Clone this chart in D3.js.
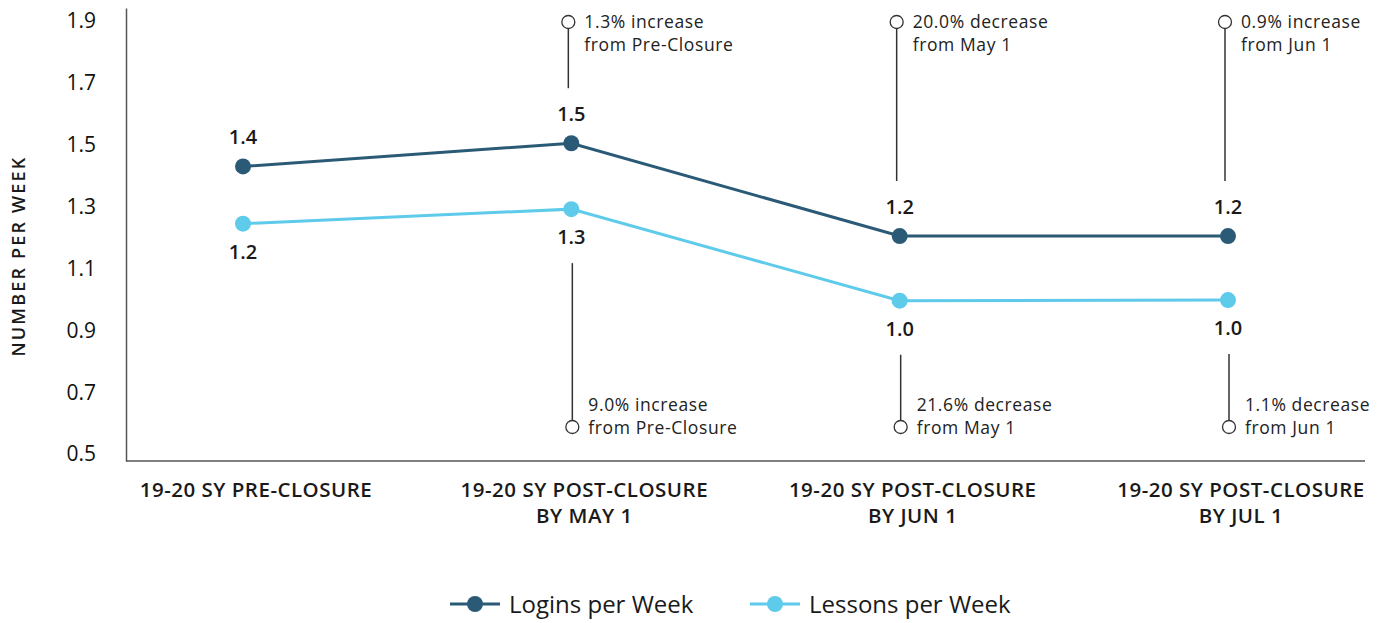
<!DOCTYPE html>
<html>
<head>
<meta charset="utf-8" />
<title>Logins and Lessons per Week</title>
<script src="https://d3js.org/d3.v7.min.js"></script>
<style>
    body { margin: 0; background: #fff; font-family: "Open Sans", sans-serif; }
    .axis path, .axis line { fill: none; stroke: #555; stroke-width: 1.5; }
    .tick text { font-size: 21px; fill: #111; font-family: "Open Sans", sans-serif; }
    .cat { font-size: 20.5px; font-weight: 600; letter-spacing: 0.5px; fill: #1a1a1a; }
    .val { font-size: 20px; font-weight: 600; fill: #1a1a1a; }
    .note { font-size: 17.5px; fill: #222; letter-spacing: 0.6px; }
    .legend text { font-size: 24px; fill: #1a1a1a; }
</style>
</head>
<body>
<svg id="chart" width="1389" height="623"></svg>
<script>
// categories and series values
var categories = [
    ["19-20 SY PRE-CLOSURE"],
    ["19-20 SY POST-CLOSURE", "BY MAY 1"],
    ["19-20 SY POST-CLOSURE", "BY JUN 1"],
    ["19-20 SY POST-CLOSURE", "BY JUL 1"]
];
var logins = [1.43, 1.505, 1.205, 1.205];
var lessons = [1.245, 1.292, 0.996, 0.998];
var loginLabels = ["1.4", "1.5", "1.2", "1.2"];
var lessonLabels = ["1.2", "1.3", "1.0", "1.0"];
var loginNotes = [null, ["1.3% increase", "from Pre-Closure"], ["20.0% decrease", "from May 1"], ["0.9% increase", "from Jun 1"]];
var lessonNotes = [null, ["9.0% increase", "from Pre-Closure"], ["21.6% decrease", "from May 1"], ["1.1% decrease", "from Jun 1"]];
var yTicks = [0.5, 0.7, 0.9, 1.1, 1.3, 1.5, 1.7, 1.9];
var seriesNames = ["Logins per Week", "Lessons per Week"];
var colors = ["#2b5a77", "#5ecbea"];

var svg = d3.select("#chart");

var x = d3.scalePoint()
    .domain(d3.range(categories.length))
    .range([243, 1228]);

var y = d3.scaleLinear()
    .domain([0.478, 1.942])
    .range([461, 8]);

// axes
var yAxis = d3.axisLeft(y).tickValues(yTicks).tickSize(0).tickPadding(30).tickFormat(d3.format(".1f"));
svg.append("g")
    .attr("class", "axis")
    .attr("transform", "translate(126,0)")
    .call(yAxis);

svg.append("line")
    .attr("x1", 126).attr("x2", 1365)
    .attr("y1", y.range()[0]).attr("y2", y.range()[0])
    .attr("stroke", "#555").attr("stroke-width", 1.5);

svg.append("text")
    .attr("transform", "translate(25,256) rotate(-90)")
    .attr("text-anchor", "middle")
    .style("font-size", "18px")
    .style("font-weight", 600)
    .style("letter-spacing", "2.2px")
    .attr("fill", "#1a1a1a")
    .text("NUMBER PER WEEK");

// category labels
var cat = svg.selectAll(".cat")
    .data(categories)
    .enter()
    .append("text")
    .attr("class", "cat")
    .attr("text-anchor", "middle")
    .attr("transform", function (d, i) { return "translate(" + (x(i) + 13) + ",497)"; });
cat.selectAll("tspan")
    .data(function (d) { return d; })
    .enter()
    .append("tspan")
    .attr("x", 0)
    .attr("dy", function (d, j) { return j === 0 ? 0 : 26; })
    .text(function (d) { return d; });

// lines and points
var line = d3.line()
    .x(function (d, i) { return x(i); })
    .y(function (d) { return y(d); });

[lessons, logins].forEach(function (s, k) {
    var c = colors[1 - k];
    svg.append("path")
        .datum(s)
        .attr("d", line)
        .attr("fill", "none")
        .attr("stroke", c)
        .attr("stroke-width", 3);
    svg.selectAll(null)
        .data(s)
        .enter()
        .append("circle")
        .attr("cx", function (d, i) { return x(i); })
        .attr("cy", function (d) { return y(d); })
        .attr("r", 8)
        .attr("fill", c);
});

// value labels
svg.selectAll(null)
    .data(logins)
    .enter()
    .append("text")
    .attr("class", "val")
    .attr("text-anchor", "middle")
    .attr("x", function (d, i) { return x(i); })
    .attr("y", function (d) { return y(d) - 22; })
    .text(function (d, i) { return loginLabels[i]; });

svg.selectAll(null)
    .data(lessons)
    .enter()
    .append("text")
    .attr("class", "val")
    .attr("text-anchor", "middle")
    .attr("x", function (d, i) { return x(i); })
    .attr("y", function (d) { return y(d) + 35; })
    .text(function (d, i) { return lessonLabels[i]; });

// annotations above logins
loginNotes.forEach(function (n, i) {
    if (!n) return;
    var cx = x(i) - 3;
    var g = svg.append("g");
    g.append("line")
        .attr("x1", cx).attr("x2", cx)
        .attr("y1", 28).attr("y2", y(logins[i]) - 55)
        .attr("stroke", "#333").attr("stroke-width", 1.5);
    g.append("circle")
        .attr("cx", cx).attr("cy", 22).attr("r", 6.5)
        .attr("fill", "#fff").attr("stroke", "#333").attr("stroke-width", 1.3);
    g.append("text")
        .attr("class", "note")
        .attr("x", cx + 16).attr("y", 28)
        .text(n[0]);
    g.append("text")
        .attr("class", "note")
        .attr("x", cx + 16).attr("y", 51)
        .text(n[1]);
});

// annotations below lessons
lessonNotes.forEach(function (n, i) {
    if (!n) return;
    var cx = x(i) + 1;
    var g = svg.append("g");
    g.append("line")
        .attr("x1", cx).attr("x2", cx)
        .attr("y1", y(lessons[i]) + 54).attr("y2", 421)
        .attr("stroke", "#333").attr("stroke-width", 1.5);
    g.append("circle")
        .attr("cx", cx).attr("cy", 427).attr("r", 6.5)
        .attr("fill", "#fff").attr("stroke", "#333").attr("stroke-width", 1.3);
    g.append("text")
        .attr("class", "note")
        .attr("x", cx + 16).attr("y", 411)
        .text(n[0]);
    g.append("text")
        .attr("class", "note")
        .attr("x", cx + 16).attr("y", 434)
        .text(n[1]);
});

// legend
var legend = svg.append("g").attr("class", "legend");
var lx = [450, 750];
seriesNames.forEach(function (name, k) {
    var g = legend.append("g").attr("transform", "translate(" + lx[k] + ",604)");
    g.append("line")
        .attr("x1", 0).attr("x2", 50)
        .attr("stroke", colors[k]).attr("stroke-width", 3);
    g.append("circle")
        .attr("cx", 25).attr("r", 8).attr("fill", colors[k]);
    g.append("text")
        .attr("x", 59).attr("y", 8.5)
        .text(name);
});
</script>
</body>
</html>
